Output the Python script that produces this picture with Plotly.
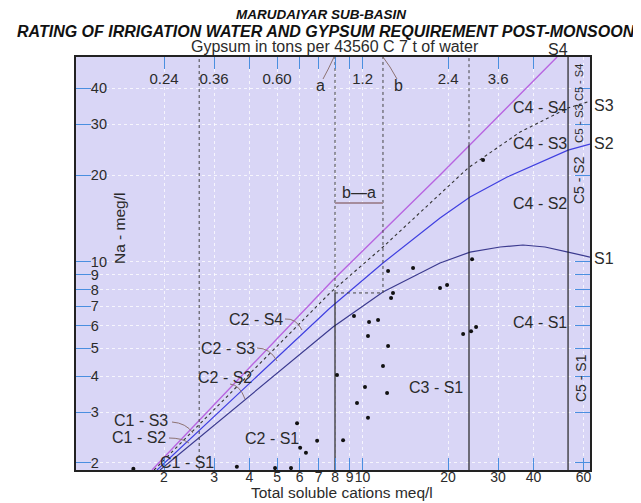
import math
import plotly.graph_objects as go

# ---------------- data ----------------
cations = [1.56, 3.61, 4.92, 5.60, 5.88, 6.03, 6.32, 6.92, 8.54, 8.13, 10.2, 9.56, 10.45,
           12.2, 11.8, 12.3, 10.45, 10.54, 11.34, 9.33, 12.3, 12.8, 12.6, 15.06, 18.74,
           19.84, 26.56, 24.3, 22.6, 24.1, 25.1]
sodium = [1.91, 1.94, 1.92, 1.92, 2.75, 2.26, 2.17, 2.39, 2.40, 4.04, 3.67, 3.23, 2.87,
          3.50, 4.34, 5.10, 5.52, 6.18, 6.28, 6.48, 9.28, 7.79, 7.48, 9.51, 8.10,
          8.30, 22.55, 10.2, 5.61, 5.74, 5.93]

s4_x = [1.815, 7.87, 18.74, 48.4]
s4_y = [1.891, 8.64, 20.0, 51.4]
s3_x = [1.845, 7.68, 11.8, 23.5, 35.85, 52.9, 63.2]
s3_y = [1.891, 7.79, 11.25, 21.15, 28.2, 34.2, 36.1]
s2_x = [1.89, 7.68, 11.8, 18.74, 23.9, 32.3, 52.9, 63.2]
s2_y = [1.891, 6.91, 9.9, 14.18, 16.77, 19.68, 24.4, 25.6]
s1_x = [1.936, 7.87, 11.8, 18.74, 23.9, 30.5, 36.7, 43.9, 52.9, 63.2]
s1_y = [1.891, 5.93, 7.85, 9.9, 10.8, 11.25, 11.43, 11.25, 10.8, 10.38]

c1_c2 = 2.66
c2_c3 = 8.0
b_limit = 11.8
c3_c4 = 23.7
c4_c5 = 52.9
c3_top = 7.79
c3c4_top = 25.4
ba_level = 16.0

x_min, x_max = 0.98, 63.2
y_min, y_max = 1.891, 51.4

x_ticks = [2, 3, 4, 5, 6, 7, 8, 9, 10, 20, 30, 40, 60]
x_tick_labels = ["2", "3", "4", "5", "6", "7", "8", "9", "10", "20", "30", "40", "60"]
top_ticks = [2, 3, 4, 5, 6, 7, 8, 9, 10, 20, 30, 40]
top_tick_labels = ["0.24", "0.36", "", "0.60", "", "", "", "", "1.2", "2.4", "3.6", ""]
y_ticks = [2, 3, 4, 5, 6, 7, 8, 9, 10, 20, 30, 40]
y_tick_labels = ["2", "3", "4", "5", "6", "7", "8", "9", "10", "20", "30", "40"]

FONT = "Liberation Sans, Arial, sans-serif"
TXT = "#2b2b2b"
BLUE_TICK = "#4a8fe0"

OFF = 8                      # page body margin
PAGE_W, PAGE_H = 641, 503
W, H = PAGE_W - OFF, PAGE_H - OFF
L, R, T, B = 76, 590, 57, 470   # plot area in page pixels


def PX(px):
    return (px - L) / (R - L)


def PY(py):
    return (B - py) / (B - T)


fig = go.Figure()

fig.add_trace(go.Scatter(x=s1_x, y=s1_y, mode="lines", line=dict(color="#3b3a8f", width=1.2)))
fig.add_trace(go.Scatter(x=s2_x, y=s2_y, mode="lines", line=dict(color="#3f3fe0", width=1.2)))
fig.add_trace(go.Scatter(x=s3_x, y=s3_y, mode="lines", line=dict(color="#333333", width=1.1, dash="dot")))
fig.add_trace(go.Scatter(x=s4_x, y=s4_y, mode="lines", line=dict(color="#b865e0", width=1.4)))


def vline(xv, y0, y1, dash, color="#222222", width=1.2):
    fig.add_trace(go.Scatter(x=[xv, xv], y=[y0, y1], mode="lines",
                             line=dict(color=color, width=width, dash=dash)))


vline(c1_c2, y_min, y_max, "dot", "#444444", 1)
vline(c2_c3, y_min, c3_top, "solid")
vline(c2_c3, c3_top, y_max, "dot", "#444444", 1)
vline(b_limit, c3_top, y_max, "dot", "#444444", 1)
vline(c3_c4, y_min, c3c4_top, "solid")
vline(c3_c4, c3c4_top, y_max, "dot", "#444444", 1)
vline(c4_c5, y_min, y_max, "solid")
fig.add_trace(go.Scatter(x=[c2_c3, b_limit], y=[c3_top, c3_top], mode="lines",
                         line=dict(color="#444444", width=1, dash="dot")))
fig.add_trace(go.Scatter(x=[c2_c3, b_limit], y=[ba_level, ba_level], mode="lines",
                         line=dict(color="#a58c9c", width=2)))

fig.add_trace(go.Scatter(x=cations, y=sodium, mode="markers",
                         marker=dict(color="#111111", size=4)))

fig.add_trace(go.Scatter(x=[2], y=[2], xaxis="x2", mode="markers", opacity=0,
                         hoverinfo="skip"))

ann = []


def text(px, py, s, size=16, angle=0, **kw):
    d = dict(x=PX(px), y=PY(py), xref="paper", yref="paper", text=s, showarrow=False,
             font=dict(family=FONT, size=size, color=kw.pop("color", TXT)),
             xanchor=kw.pop("xanchor", "center"), yanchor=kw.pop("yanchor", "middle"),
             textangle=angle)
    d.update(kw)
    ann.append(d)


text(321, 14, "MARUDAIYAR SUB-BASIN", 13.5, color="#111111")
ann[-1]["font"].update(weight="bold", style="italic")
text(326, 31, "RATING OF IRRIGATION WATER AND GYPSUM REQUIREMENT POST-MONSOON", 16, color="#111111")
ann[-1]["font"].update(weight="bold", style="italic")
text(335, 47, "Gypsum in tons per 43560 C 7 t of water", 16)
text(558, 49, "S4", 16)
text(604, 105, "S3", 16)
text(604, 143, "S2", 16)
text(604, 258, "S1", 16)
text(342, 493, "Total soluble cations meq/l", 15.5)
text(119, 228, "Na - meg/l", 15.5, angle=-90)
text(492, 499, "Fig.5", 16, yanchor="top")

text(540, 107, "C4 - S4")
text(540, 143, "C4 - S3")
text(540, 203, "C4 - S2")
text(540, 322, "C4 - S1")
text(436, 387, "C3 - S1")
text(272, 438, "C2 - S1")
text(256, 319, "C2 - S4")
text(228, 348, "C2 - S3")
text(225, 377, "C2 - S2")
text(141, 420, "C1 - S3")
text(139, 437, "C1 - S2")
text(187, 462, "C1 - S1")
text(359, 192, "b\u2014a")
text(320, 86, "a")
text(398, 86, "b")

text(579, 180, "C5 - S2", 14, angle=-90)
text(581, 378, "C5 - S1", 14, angle=-90)
text(579, 124, "C5 - S3", 11.5, angle=-90)
text(579, 83, "C5 - S4", 11, angle=-90)

shapes = []
LEAD = "#8d7272"


def leader(x0, y0, xc, yc, x1, y1):
    path = "M {} {} Q {} {} {} {}".format(PX(x0), PY(y0), PX(xc), PY(yc), PX(x1), PY(y1))
    shapes.append(dict(type="path", path=path, xref="paper", yref="paper",
                       line=dict(color=LEAD, width=1)))


leader(285, 319, 296, 318, 302, 330)
leader(257, 348, 270, 348, 277, 361)
leader(230, 384, 240, 385, 245, 399)
leader(172, 422, 186, 423, 193, 433)
leader(169, 438, 182, 438, 189, 443)
leader(323, 79, 328, 70, 334, 57)
leader(383, 57, 390, 66, 397, 79)

tickfont = dict(family=FONT, size=15, color=TXT)
xtickfont = dict(family=FONT, size=14, color=TXT)

fig.update_layout(
    width=W, height=H,
    margin=dict(l=L - OFF, r=PAGE_W - R, t=T - OFF, b=PAGE_H - B),
    paper_bgcolor="white",
    plot_bgcolor="#d9d6f6",
    showlegend=False,
    annotations=ann,
    shapes=shapes,
    xaxis=dict(type="log", range=[math.log10(x_min), math.log10(x_max)],
               tickvals=x_ticks, ticktext=x_tick_labels, ticks="inside", ticklen=12,
               tickangle=0, ticklabelstandoff=-7,
               tickcolor=BLUE_TICK, tickwidth=1.3, showline=True, linecolor="#222222",
               linewidth=1.5, mirror=True, showgrid=True, gridcolor="rgba(255,255,255,0.75)",
               griddash="dot", gridwidth=1, zeroline=False, tickfont=xtickfont),
    xaxis2=dict(type="log", range=[math.log10(x_min), math.log10(x_max)],
                overlaying="x", side="top", anchor="y", tickangle=0,
                tickvals=top_ticks, ticktext=top_tick_labels, ticks="inside", ticklen=12,
                tickcolor=BLUE_TICK, tickwidth=1.3, ticklabelposition="inside",
                ticklabelstandoff=4, ticklabeloverflow="allow",
                showgrid=False, showline=False, zeroline=False, tickfont=tickfont),
    yaxis=dict(type="log", range=[math.log10(y_min), math.log10(y_max)],
               tickvals=y_ticks, ticktext=y_tick_labels, ticks="inside", ticklen=15,
               tickcolor=BLUE_TICK, tickwidth=1.3, ticklabelposition="inside",
               ticklabeloverflow="allow",
               showline=True, linecolor="#222222", linewidth=1.5, mirror="ticks",
               showgrid=True, gridcolor="rgba(255,255,255,0.75)", griddash="dot",
               zeroline=False, tickfont=dict(family=FONT, size=14.5, color=TXT)),
)

fig.write_html("out.html")
